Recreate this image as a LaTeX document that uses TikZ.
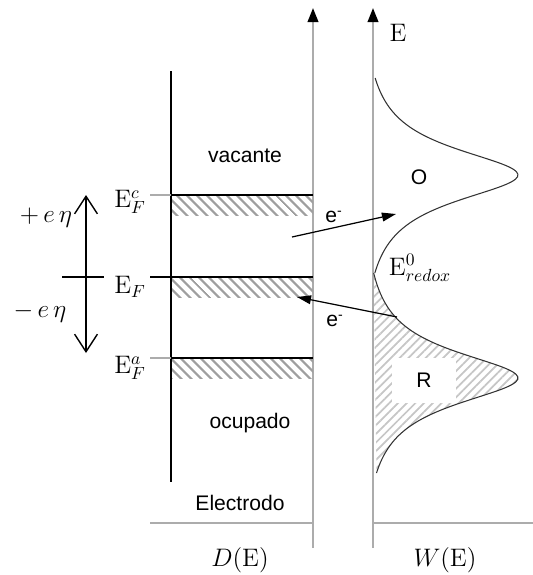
\documentclass[tikz,border=0pt]{standalone}
\usepackage[no-math]{fontspec}
\setmainfont{Liberation Sans}
\usepackage{tikz}
\usetikzlibrary{arrows.meta, patterns.meta}

\tikzset{
  eje/.style={line width=1.2pt, gray!65, -{Triangle[length=8pt, width=6pt, color=black]}},
  base/.style={line width=1.2pt, gray!65},
  nivel/.style={line width=0.9pt, black},
  banda/.style={pattern={Lines[angle=-45, distance=4pt, line width=1.3pt]}, pattern color=gray!75},
  etq/.style={font=\fontsize{12}{14}\selectfont, inner sep=1pt},
  etqm/.style={font=\fontsize{14}{16}\selectfont, inner sep=1pt},
  electron/.style={line width=0.7pt, -{Triangle[length=8pt, width=5pt]}},
  declare function={lob(\t,\h)=143*(1/(1+(\t/33)^2)-1/(1+(\h/33)^2))/(1-1/(1+(\h/33)^2));}
}

\begin{document}
\begin{tikzpicture}[x=0.02cm, y=-0.02cm]
    \useasboundingbox (0,0) rectangle (533,575);

    % ejes D(E) y W(E)
    \coordinate (D0) at (313,548); \coordinate (D1) at (313,8);
    \coordinate (W0) at (373,548); \coordinate (W1) at (373,8);
    \draw[eje] (D0) -- (D1);
    \draw[eje] (W0) -- (W1);
    \coordinate (B0) at (150,523); \coordinate (B1) at (313,523);
    \coordinate (B2) at (373,523); \coordinate (B3) at (533,523);
    \draw[base] (B0) -- (B1) (B2) -- (B3);
    \node[etqm, font=\fontsize{15}{17}\selectfont] (DE) at (240,560) {$D(\mathrm{E})$};
    \node[etqm, font=\fontsize{15}{17}\selectfont] (WE) at (445,560) {$W(\mathrm{E})$};
    \node[etqm] (E) at (398,33) {$\mathrm{E}$};

    % electrodo
    \coordinate (L0) at (171,71); \coordinate (L1) at (171,482);
    \draw[line width=0.9pt] (L0) -- (L1);
    \node[etq] (vac) at (245,156) {vacante};
    \node[etq] (ocu) at (250,423) {ocupado};
    \node[etq] (elec) at (240,503) {Electrodo};

    % niveles de Fermi con bandas rayadas
    \foreach \y/\c in {195/gray!65, 277/black, 358/gray!65} {
        \fill[banda] (172,\y) rectangle (313,\y+20);
        \draw[nivel, \c] (150,\y) -- (171,\y);
        \draw[nivel] (171,\y) -- (313,\y);
    }
    \node[etqm] (Ec) at (130,202) {$\mathrm{E}_F^{c}$};
    \node[etqm] (EF) at (130,287) {$\mathrm{E}_F$};
    \node[etqm] (Ea) at (130,368) {$\mathrm{E}_F^{a}$};

    % sobrepotencial
    \coordinate (Ar) at (86,195); \coordinate (Ab) at (86,353);
    \draw[line width=0.8pt, {Straight Barb[length=10pt, width=13pt]}-{Straight Barb[length=10pt, width=13pt]}] (Ab) -- (Ar);
    \coordinate (T0) at (62,277); \coordinate (T1) at (104,277);
    \draw[line width=0.8pt] (T0) -- (T1);
    \node[etqm] (mas) at (46,218) {$+\,e\,\eta$};
    \node[etqm] (menos) at (40,313) {$-\,e\,\eta$};

    % distribucion W(E)
    \fill[pattern={Lines[angle=45, distance=3.5pt, line width=1pt]}, pattern color=gray!45]
        plot[domain=-105:95, samples=80] ({375+lob(\x,100)}, {378+\x}) -- cycle;
    \node[etq, fill=white, minimum width=1.3cm, minimum height=0.9cm] (R) at (424,380) {R};
    \draw[line width=0.6pt, black!80] plot[domain=-97:98, samples=80, smooth] ({375+lob(\x,97.5)}, {175+\x});
    \draw[line width=0.6pt, black!80] plot[domain=-105:95, samples=80, smooth] ({375+lob(\x,100)}, {378+\x});
    \node[etq] (O) at (419,177) {O};
    \node[etqm] (Ered) at (420,268) {$\mathrm{E}^{0}_{redox}$};

    % transferencia de electrones
    \coordinate (s1) at (292,237); \coordinate (t1) at (396,214);
    \draw[electron] (s1) -- (t1);
    \node[etq] (e1) at (334,217) {e\textsuperscript{-}};
    \coordinate (s2) at (397,317); \coordinate (t2) at (297,297);
    \draw[electron] (s2) -- (t2);
    \node[etq] (e2) at (335,321) {e\textsuperscript{-}};
\end{tikzpicture}
\end{document}
